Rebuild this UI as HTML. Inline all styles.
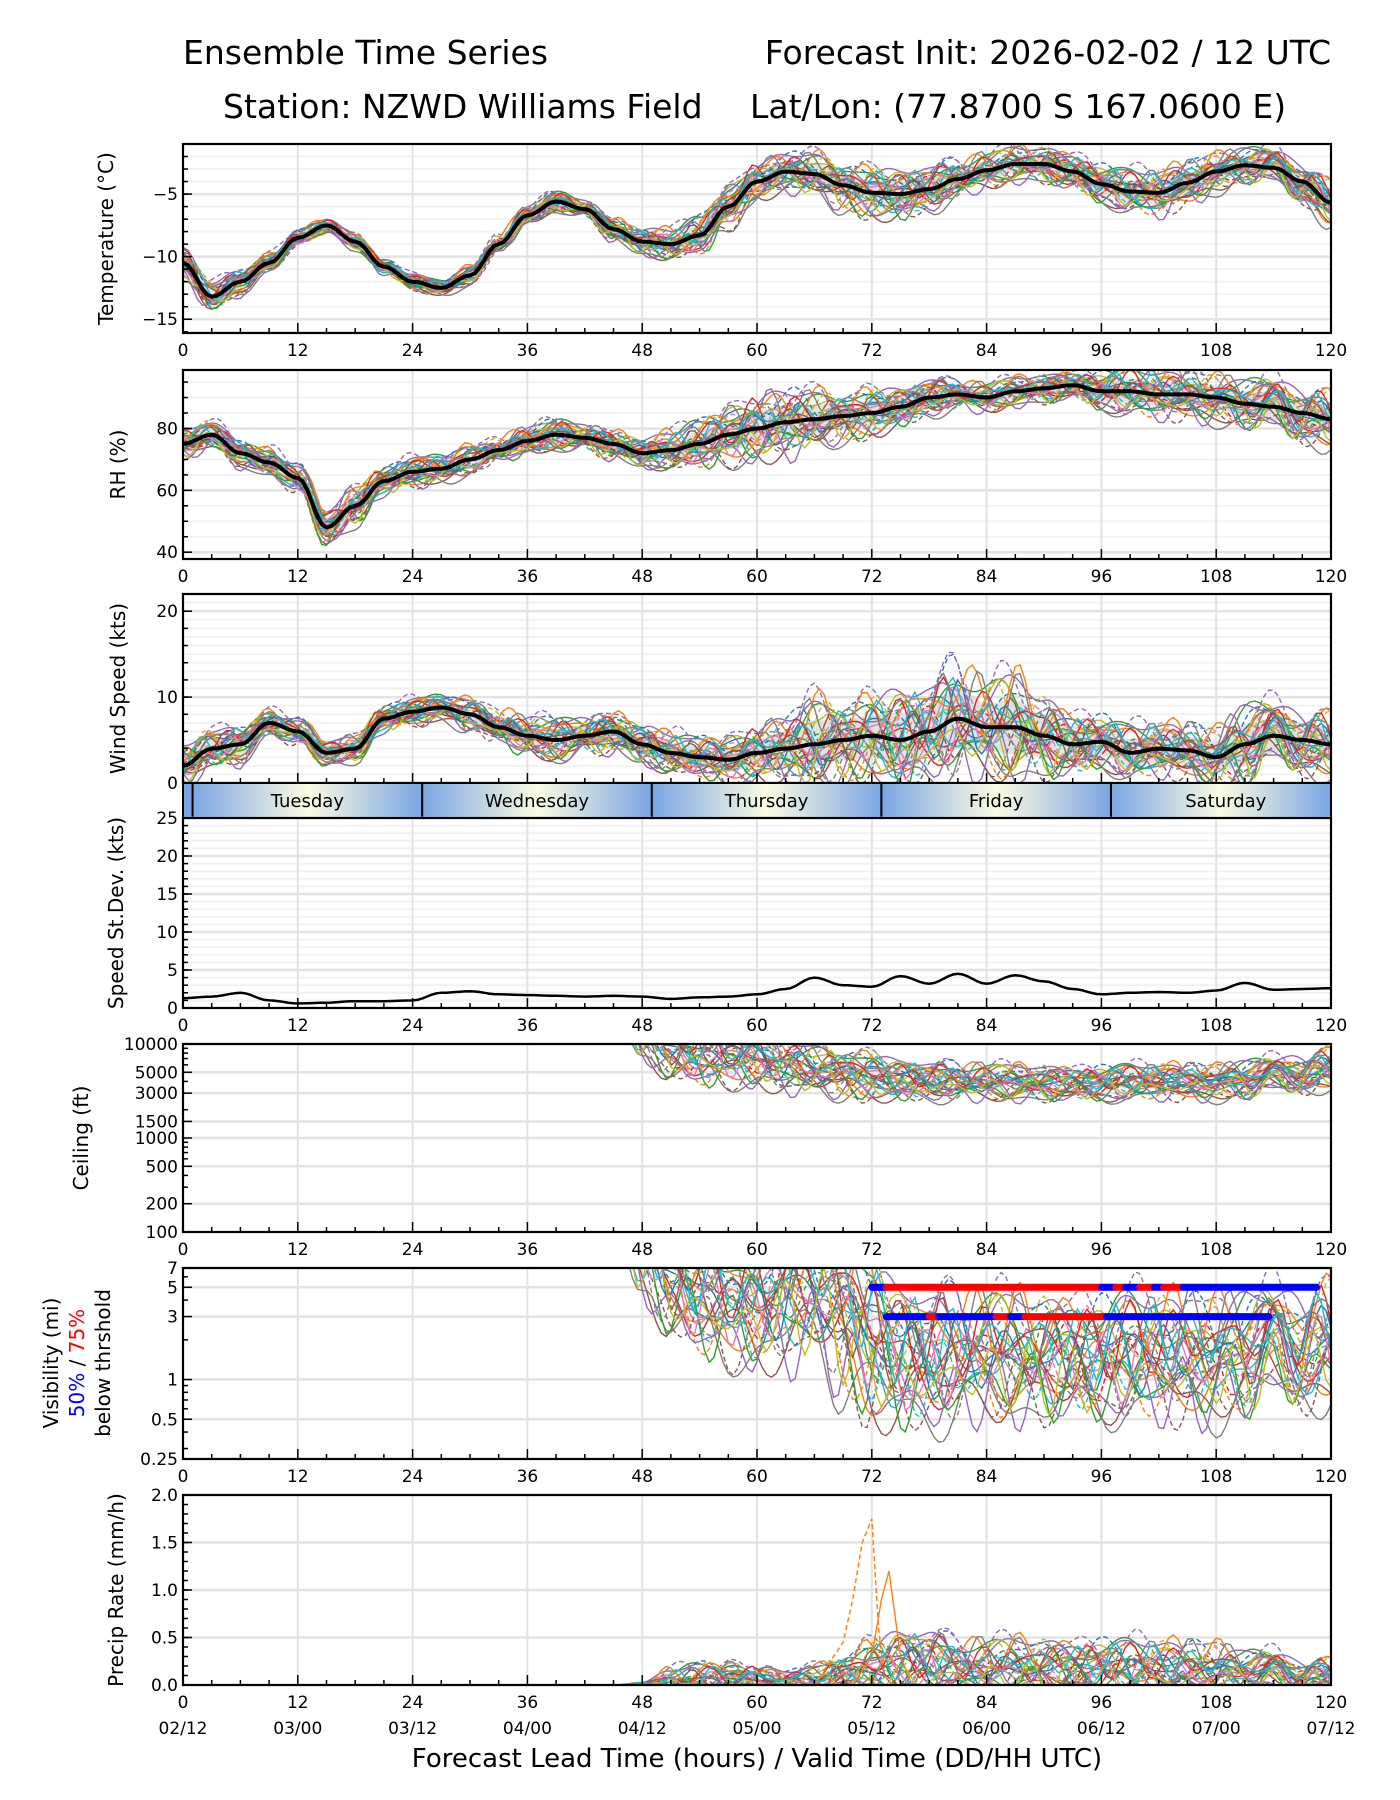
<!DOCTYPE html>
<html><head><meta charset="utf-8"><style>
html,body{margin:0;padding:0;background:#fff}
svg{display:block;font-family:"DejaVu Sans","Liberation Sans",sans-serif}
</style></head><body>
<svg id="fig" width="1400" height="1800" viewBox="0 0 1400 1800" xmlns="http://www.w3.org/2000/svg">
<defs>
<linearGradient id="dayg" x1="0" x2="1" y1="0" y2="0">
<stop offset="0" stop-color="#7aa6e4"/><stop offset="0.5" stop-color="#fbfbe2"/><stop offset="1" stop-color="#7aa6e4"/>
</linearGradient>
</defs>
<g font-size="33" fill="#000">
<text x="183" y="64">Ensemble Time Series</text>
<text x="1331" y="64" text-anchor="end">Forecast Init: 2026-02-02 / 12 UTC</text>
<text x="223" y="118">Station: NZWD Williams Field</text>
<text x="750" y="118">Lat/Lon: (77.8700 S 167.0600 E)</text>
</g>
<g id="plots"></g>
</svg>
<script>
// ---------- data (3-hourly, t = 0..120) ----------
const hours = [0,3,6,9,12,15,18,21,24,27,30,33,36,39,42,45,48,51,54,57,60,63,66,69,72,75,78,81,84,87,90,93,96,99,102,105,108,111,114,117,120];
const tempMean = [-10.5,-13.2,-12,-10.5,-8.5,-7.5,-8.8,-10.8,-12,-12.5,-11.5,-9,-6.7,-5.6,-6.2,-7.8,-8.8,-9,-8.3,-6,-4,-3.2,-3.4,-4.3,-4.9,-5,-4.6,-3.8,-3.1,-2.6,-2.6,-3.2,-4.2,-4.8,-4.9,-4.1,-3.2,-2.7,-2.9,-4,-5.7];
const tempSpread = [0.8,0.8,0.7,0.5,0.4,0.4,0.4,0.4,0.4,0.4,0.5,0.6,0.5,0.5,0.5,0.6,0.7,0.8,1,1.1,1,1,1.1,1.2,1.3,1.3,1.2,1,0.9,0.9,0.9,1,1,1.1,1.2,1.1,1,0.9,1,1.1,1.2];
const rhMean = [75,78,72,69,64,48,55,63,66,67,70,73,76,78,77,75,72,73,75,78,80,82,83,84,85,87,90,91,90,92,93,94,92,92,91,91,90,88,87,85,83];
const rhSpread = [3,3,3,3,3,4,4,3,3,3,3,3,3,3,3,3,3,4,5,6,7,7,6,5,5,4,4,3,3,3,3,3,4,5,5,5,5,5,6,6,6];
const windMean = [2,4,4.5,7,6,3.5,4,7.5,8.3,8.8,8,6.5,5.5,5,5.5,6,4.5,3.5,3,2.7,3.5,4,4.5,5,5.5,5,6,7.5,6.5,6.5,5.5,4.5,4.8,3.5,4,3.8,3,4.5,5.5,5,4.5];
const windSpread = [1.5,1.5,1.5,1,1,1,1,1,1,1,1.2,1.5,1.5,1.5,1.5,1.5,1.5,1.5,1.5,1.8,2,2.5,3.5,3,3,4,3.5,4.5,3.5,4,3,2.5,2,2,2,2,2.3,3,2.5,2.5,2.5];
const sdMean = [1.3,1.5,2,1,0.6,0.7,0.9,0.9,1,2,2.2,1.8,1.7,1.6,1.5,1.6,1.5,1.2,1.4,1.5,1.8,2.5,4,3,2.8,4.2,3.2,4.5,3.2,4.3,3.5,2.5,1.8,2,2.1,2,2.3,3.3,2.4,2.5,2.6];
const ceilMean = [30000,30000,30000,30000,30000,30000,30000,30000,30000,30000,30000,30000,30000,30000,30000,30000,14000,9000,8000,7500,7000,6000,5500,5000,4500,4200,4000,4000,4000,3900,3900,3800,3800,3900,4000,4000,4000,4200,4500,5000,5500];
const ceilSpread = [0.1,0.1,0.1,0.1,0.1,0.1,0.1,0.1,0.1,0.1,0.1,0.1,0.1,0.1,0.1,0.1,0.2,0.22,0.22,0.2,0.2,0.18,0.17,0.16,0.16,0.14,0.13,0.13,0.12,0.12,0.12,0.12,0.12,0.12,0.12,0.12,0.12,0.13,0.13,0.14,0.14];
const visMean = [20,20,20,20,20,20,20,20,20,20,20,20,20,20,20,20,12,6,4.5,4,3.5,4.5,5,3.5,2,1.5,1.4,1.5,1.6,1.5,1.5,1.5,1.4,1.5,1.5,1.5,1.5,1.6,1.7,1.8,2];
const visSpread = [0.1,0.1,0.1,0.1,0.1,0.1,0.1,0.1,0.1,0.1,0.1,0.1,0.1,0.1,0.1,0.1,0.3,0.3,0.3,0.3,0.3,0.35,0.35,0.4,0.4,0.35,0.33,0.33,0.3,0.3,0.3,0.3,0.3,0.3,0.3,0.3,0.3,0.3,0.3,0.3,0.3];
const precipMean = [0,0,0,0,0,0,0,0,0,0,0,0,0,0,0,0,0,0.02,0.05,0.06,0.05,0.03,0.05,0.1,0.15,0.2,0.2,0.18,0.17,0.18,0.18,0.17,0.17,0.16,0.16,0.15,0.15,0.13,0.12,0.1,0.1];
const precipSpread = [0,0,0,0,0,0,0,0,0,0,0,0,0,0,0,0,0.02,0.1,0.12,0.12,0.1,0.08,0.1,0.15,0.2,0.25,0.25,0.2,0.2,0.2,0.2,0.2,0.2,0.2,0.2,0.2,0.2,0.15,0.15,0.12,0.12];
const precipSpikeHours = [66,68,69,70,71,72,72.7,73.3,74,75];
const precipSpikeVals = [0,0.3,0.45,0.9,1.5,1.75,0.6,0.1,0.02,0];
const precipSpike2Hours = [70,72,73,73.8,75,76];
const precipSpike2Vals = [0,0.3,0.9,1.2,0.3,0.05];
const memberBias = [0.3,-0.5,0.8,-0.2,1.1,-0.9,0.1,-1.2,0.6,-0.3,0.9,-0.7,0.2,-0.1,1.3,-1.0,0.4,-0.6,0.7,-0.4,0.0,1.0,-0.8,0.5,-1.1,0.15,-0.25,0.85,-0.55,0.45];
const vis5Segments = [[72,73.5,'b'],[73.5,96,'r'],[96,97.5,'b'],[97.5,98.5,'r'],[98.5,100,'b'],[100,101.5,'r'],[101.5,102.5,'b'],[102.5,104.5,'r'],[104.5,118.5,'b']];
const vis3Segments = [[73.5,78,'b'],[78,79,'r'],[79,85,'b'],[85,86.5,'r'],[86.5,88,'b'],[88,96.5,'r'],[96.5,113.5,'b']];
const dayNames = ['Tuesday','Wednesday','Thursday','Friday','Saturday'];
const dayStarts = [1,25,49,73,97];
const dateLabels = ['02/12','03/00','03/12','04/00','04/12','05/00','05/12','06/00','06/12','07/00','07/12'];
// ---------- helpers ----------
const NS='http://www.w3.org/2000/svg';
const root=document.getElementById('plots');
const X0=183,X1=1331;
const colors=['#1f77b4','#ff7f0e','#2ca02c','#d62728','#9467bd','#8c564b','#e377c2','#7f7f7f','#bcbd22','#17becf'];
function xs(t){return X0+(X1-X0)*t/120;}
function mk(tag,attrs,parent){const e=document.createElementNS(NS,tag);for(const k in attrs)e.setAttribute(k,attrs[k]);(parent||root).appendChild(e);return e;}
function interp(H,A,t){
  if(t<=H[0])return A[0];if(t>=H[H.length-1])return A[A.length-1];
  let i=0;while(H[i+1]<t)i++;
  const f=(t-H[i])/(H[i+1]-H[i]);const s=(1-Math.cos(Math.PI*f))/2;
  return A[i]*(1-s)+A[i+1]*s;
}
const fineT=[];for(let t=0;t<=120;t+=0.5)fineT.push(t);
function pathFrom(pts){return pts.map((p,i)=>(i?'L':'M')+p[0].toFixed(1)+','+p[1].toFixed(1)).join('');}
function wig(k,t){return 0.55*Math.sin(t*(0.35+0.04*k)+k*1.7)+0.35*Math.sin(t*(0.9+0.03*k)+k*0.6);}

function panel(cfg){
  const g=mk('g',{});
  
  
  const top=cfg.top,bot=cfg.bot;
  const ys=v=>{if(cfg.log){const a=Math.log10(cfg.min),b=Math.log10(cfg.max);return bot-(bot-top)*(Math.log10(v)-a)/(b-a);}return bot-(bot-top)*(v-cfg.min)/(cfg.max-cfg.min);};
  const cid='clip-'+cfg.name;
  const cp=mk('clipPath',{id:cid},g);mk('rect',{x:X0,y:top,width:X1-X0,height:bot-top},cp);
  (cfg.minorGrid||[]).forEach(v=>{const y=ys(v);const l=mk('line',{x1:X0,x2:X1,y1:y,y2:y,stroke:'#f2f2f2','stroke-width':2},g);});
  for(let t=12;t<120;t+=12){const l=mk('line',{x1:xs(t),x2:xs(t),y1:top,y2:bot,stroke:'#e3e3e3','stroke-width':2},g);}
  cfg.yticks.forEach(v=>{const y=ys(v);const l=mk('line',{x1:X0,x2:X1,y1:y,y2:y,stroke:'#e3e3e3','stroke-width':2.5},g);});
  const cg=mk('g',{'clip-path':'url(#'+cid+')'},g);
  
  
  if(cfg.draw)cfg.draw(cg,ys);
  const fr=mk('rect',{x:X0,y:top,width:X1-X0,height:bot-top,fill:'none',stroke:'#000','stroke-width':2.2},g);
  
  for(let t=0;t<=120;t+=3){const len=t%12===0?10:5;mk('line',{x1:xs(t),x2:xs(t),y1:bot,y2:bot-len,stroke:'#000','stroke-width':1.5},g);}
  if(!cfg.noXLabels){for(let t=0;t<=120;t+=12){const tx=mk('text',{x:xs(t),y:bot+23,'text-anchor':'middle','font-size':17},g);tx.textContent=t;}}
  (cfg.yminor||[]).forEach(v=>{const y=ys(v);mk('line',{x1:X0,x2:X0+5,y1:y,y2:y,stroke:'#000','stroke-width':1.5},g);});
  cfg.yticks.forEach((v,i)=>{const y=ys(v);mk('line',{x1:X0,x2:X0+9,y1:y,y2:y,stroke:'#000','stroke-width':1.5},g);
    const tx=mk('text',{x:X0-5,y:y+6,'text-anchor':'end','font-size':17},g);tx.textContent=cfg.ylabels?cfg.ylabels[i]:String(v).replace('-','\u2212');});
  if(cfg.ylab){const cy=(top+bot)/2;const tx=mk('text',{x:cfg.ylabX,y:cy,'text-anchor':'middle','font-size':20,transform:'rotate(-90 '+cfg.ylabX+' '+cy+')'},g);tx.textContent=cfg.ylab;}
  return ys;
}
function drawEnsemble(cg,ys,meanA,sprA,opts){
  opts=opts||{};
  const up=[],dn=[];
  fineT.forEach(t=>{const m=interp(hours,meanA,t),s=interp(hours,sprA,t);up.push([xs(t),ys(opts.tr?opts.tr(m,s*0.8):m+s*0.8)]);dn.push([xs(t),ys(opts.tr?opts.tr(m,-s*0.8):m-s*0.8)]);});
  if(!opts.noband){const b=mk('path',{d:pathFrom(up.concat(dn.reverse()))+'Z',fill:'#d0d0d0','fill-opacity':0.6,stroke:'none'},cg);}
  for(let k=0;k<30;k++){
    const pts=fineT.map(t=>{const m=interp(hours,meanA,t),s=interp(hours,sprA,t);const d=s*(memberBias[k]*0.9+wig(k,t)*1.1);let v=opts.tr?opts.tr(m,d):m+d;if(opts.floor!==undefined)v=Math.max(opts.floor,v);return [xs(t),ys(v)];});
    const p=mk('path',{d:pathFrom(pts),fill:'none',stroke:colors[k%10],'stroke-width':1.4},cg);
    if(k>=10&&k<20)p.setAttribute('stroke-dasharray','5,3');
    
    
  }
  if(!opts.nomean){const pts=fineT.map(t=>[xs(t),ys(interp(hours,meanA,t))]);const p=mk('path',{d:pathFrom(pts),fill:'none',stroke:'#000','stroke-width':4,'stroke-linejoin':'round'},cg);}
}
function rng(a,b,s){const r=[];for(let v=a;v<=b+1e-9;v+=s)r.push(+v.toFixed(3));return r;}

panel({name:'temperature',top:144,bot:333,min:-16.1,max:-1.0,yticks:[-15,-10,-5],minorGrid:rng(-16,-2,1),yminor:rng(-16,-2,1),ylab:'Temperature (°C)',ylabX:113,
  draw:(cg,ys)=>drawEnsemble(cg,ys,tempMean,tempSpread)});
panel({name:'rh',top:370,bot:559,min:37.8,max:98.9,yticks:[40,60,80],minorGrid:rng(40,95,5),yminor:rng(40,95,5),ylab:'RH (%)',ylabX:125,
  draw:(cg,ys)=>drawEnsemble(cg,ys,rhMean,rhSpread)});
panel({name:'wind-speed',top:594,bot:783,min:0,max:22,noXLabels:true,yticks:[0,10,20],minorGrid:rng(1,21,1),yminor:rng(0,22,2),ylab:'Wind Speed (kts)',ylabX:125,
  draw:(cg,ys)=>drawEnsemble(cg,ys,windMean,windSpread,{floor:0})});
(function(){
  const g=mk('g',{});
  const top=783,bot=818;
  mk('rect',{x:X0,y:top,width:xs(dayStarts[0])-X0,height:bot-top,fill:'#7aa6e4'},g);
  dayNames.forEach((d,i)=>{const a=xs(dayStarts[i]),b=i<4?xs(dayStarts[i+1]):X1;
    const r=mk('rect',{x:a,y:top,width:b-a,height:bot-top,fill:'url(#dayg)'},g);
    mk('line',{x1:a,x2:a,y1:top,y2:bot,stroke:'#000','stroke-width':2},g);
    const tx=mk('text',{x:(a+(i<4?b:xs(121)))/2,y:top+24,'text-anchor':'middle','font-size':18},g);tx.textContent=d;});
  mk('rect',{x:X0,y:top,width:X1-X0,height:bot-top,fill:'none',stroke:'#000','stroke-width':2},g);
})();
panel({name:'speed-stdev',top:818,bot:1008,min:0,max:25,yticks:[0,5,10,15,20,25],minorGrid:rng(1,24,1),yminor:rng(0,25,1),ylab:'Speed St.Dev. (kts)',ylabX:123,
  draw:(cg,ys)=>{const pts=fineT.map(t=>[xs(t),ys(interp(hours,sdMean,t))]);const p=mk('path',{d:pathFrom(pts),fill:'none',stroke:'#000','stroke-width':2.5},cg);}});
panel({name:'ceiling',top:1044,bot:1232,min:100,max:10000,log:true,yticks:[100,200,500,1000,1500,3000,5000,10000],yminor:[300,400,600,700,800,900,2000,4000,6000,7000,8000,9000],ylab:'Ceiling (ft)',ylabX:88,
  draw:(cg,ys)=>drawEnsemble(cg,ys,ceilMean,ceilSpread,{noband:true,nomean:true,tr:(m,d)=>m*Math.pow(10,d)})});
panel({name:'visibility',top:1268,bot:1459,min:0.25,max:7,log:true,yticks:[0.25,0.5,1,3,5,7],yminor:[0.3,0.4,0.6,0.7,0.8,0.9,2,4,6],
  draw:(cg,ys)=>{drawEnsemble(cg,ys,visMean,visSpread,{noband:true,nomean:true,tr:(m,d)=>m*Math.pow(10,d)});
    [[5,vis5Segments],[3,vis3Segments]].forEach(([lev,segs])=>segs.forEach(s=>{const l=mk('line',{x1:xs(s[0]),x2:xs(s[1]),y1:ys(lev),y2:ys(lev),stroke:s[2]==='r'?'#ff0000':'#0000ff','stroke-width':7,'stroke-linecap':'round'},cg);}));}});
(function(){const cy=1363;const g=mk('g',{'font-size':20,'text-anchor':'middle'});
  const a=mk('text',{x:58,y:cy,transform:'rotate(-90 58 '+cy+')'},g);a.textContent='Visibility (mi)';
  const b=mk('text',{x:84,y:cy,transform:'rotate(-90 84 '+cy+')'},g);
  const s1=mk('tspan',{fill:'#0000ff'},b);s1.textContent='50%';const s2=mk('tspan',{fill:'#000'},b);s2.textContent=' / ';const s3=mk('tspan',{fill:'#ff0000'},b);s3.textContent='75%';
  const c=mk('text',{x:110,y:cy,transform:'rotate(-90 110 '+cy+')'},g);c.textContent='below thrshold';})();
panel({name:'precip',top:1495,bot:1685,min:0,max:2,yticks:[0,0.5,1,1.5,2],ylabels:['0.0','0.5','1.0','1.5','2.0'],yminor:rng(0,2,0.1),ylab:'Precip Rate (mm/h)',ylabX:123,
  draw:(cg,ys)=>{drawEnsemble(cg,ys,precipMean,precipSpread,{noband:true,nomean:true,floor:0});
    const p1=mk('path',{d:pathFrom(precipSpikeHours.map((h,i)=>[xs(h),ys(precipSpikeVals[i])])),fill:'none',stroke:'#ff7f0e','stroke-width':1.4,'stroke-dasharray':'5,3'},cg);
    const p2=mk('path',{d:pathFrom(precipSpike2Hours.map((h,i)=>[xs(h),ys(precipSpike2Vals[i])])),fill:'none',stroke:'#ff7f0e','stroke-width':1.4},cg);}});
dateLabels.forEach((d,i)=>{const tx=mk('text',{x:xs(i*12),y:1734,'text-anchor':'middle','font-size':17});tx.textContent=d;
  
  });
const xl=mk('text',{x:(X0+X1)/2,y:1767,'text-anchor':'middle','font-size':26});xl.textContent='Forecast Lead Time (hours) / Valid Time (DD/HH UTC)';


</script>
</body></html>
